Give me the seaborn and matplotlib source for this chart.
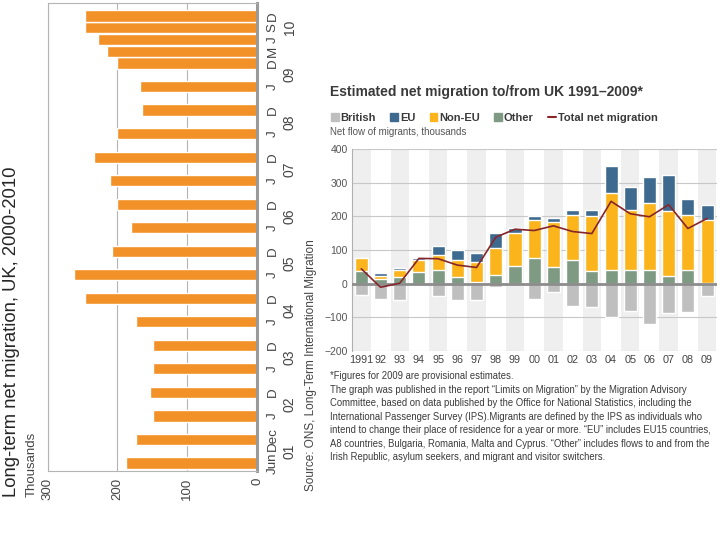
import numpy as np
import pandas as pd
import seaborn as sns
import matplotlib
matplotlib.use("Agg")
import matplotlib.pyplot as plt
import matplotlib.transforms as mtransforms
from matplotlib.patches import Patch
from matplotlib.lines import Line2D

# left panel: long-term net migration, UK (thousands)
periods = ["2001-06", "2001-12", "2002-06", "2002-12", "2003-06", "2003-12",
           "2004-06", "2004-12", "2005-06", "2005-12", "2006-06", "2006-12",
           "2007-06", "2007-12", "2008-06", "2008-12", "2009-06", "2009-12",
           "2010-03", "2010-06", "2010-09", "2010-12"]
period_labels = ["Jun", "Dec", "J", "D", "J", "D", "J", "D", "J", "D", "J", "D",
                 "J", "D", "J", "D", "J", "D", "M", "J", "S", "D"]
net_migration = [188, 173, 149, 154, 149, 149, 174, 247, 263, 208, 181, 201,
                 211, 234, 201, 165, 168, 201, 215, 228, 246, 246]
years = list(range(2001, 2011))

# right panel: estimated net migration to/from UK 1991-2009 (thousands)
year_labels = ["1991", "92", "93", "94", "95", "96", "97", "98", "99", "00",
               "01", "02", "03", "04", "05", "06", "07", "08", "09"]
british = [-33, -45, -48, 0, -38, -48, -48, -11, 0, -45,
           -26, -67, -70, -99, -83, -121, -88, -85, -38]
eu = [0, 8, 6, 8, 27, 32, 29, 46, 16, 14, 14, 15, 20, 78, 70, 79, 107, 47, 47]
non_eu = [37, 8, 19, 36, 47, 50, 57, 78, 97, 111,
          132, 134, 164, 232, 179, 200, 191, 166, 186]
other = [38, 14, 21, 33, 39, 19, 6, 27, 53, 77, 50, 71, 36, 39, 39, 39, 24, 39, 2]
total = [44, -11, 1, 75, 74, 55, 48, 138, 162, 158,
         172, 155, 149, 245, 208, 199, 235, 164, 194]

footnote = ("*Figures for 2009 are provisional estimates.\n"
            "The graph was published in the report \u201cLimits on Migration\u201d by the Migration Advisory\n"
            "Committee, based on data published by the Office for National Statistics, including the\n"
            "International Passenger Survey (IPS).Migrants are defined by the IPS as individuals who\n"
            "intend to change their place of residence for a year or more. \u201cEU\u201d includes EU15 countries,\n"
            "A8 countries, Bulgaria, Romania, Malta and Cyprus. \u201cOther\u201d includes flows to and from the\n"
            "Irish Republic, asylum seekers, and migrant and visitor switchers.")

orange = "#f39129"
c_british = "#bfbfbf"
c_eu = "#3f6a8f"
c_non_eu = "#fbb41c"
c_other = "#7e9a83"
c_total = "#86262a"

sns.set_theme(style="white")
plt.rcParams['font.family'] = ['Liberation Sans', 'DejaVu Sans']

fig = plt.figure(figsize=(7.2, 5.4), dpi=100)

# ---- left chart (drawn rotated) ----
ax1 = fig.add_axes([47.7 / 720, 1 - 471 / 540, 209.3 / 720, 468 / 540])
dates = pd.to_datetime(periods, format="%Y-%m")
months = (dates.year - 2001) * 12 + dates.month - 6
df1 = pd.DataFrame({"month": months, "value": net_migration})
sns.barplot(data=df1, x="value", y="month", orient="h", native_scale=True,
            width=0.95, color=orange, saturation=1, errorbar=None, ax=ax1)
ax1.set_xlim(300, 0)
ax1.set_ylim(-2.04, 117.3)
ax1.set_xlabel("")
ax1.set_ylabel("")
ax1.set_xticks([300, 200, 100, 0])
ax1.grid(axis="x", color="#b4b4b4", lw=0.8)
ax1.grid(axis="y", visible=False)
ax1.set_axisbelow(True)
for s in ["left", "top", "bottom"]:
    ax1.spines[s].set_color("#b4b4b4")
    ax1.spines[s].set_linewidth(0.8)
ax1.spines["right"].set_color("#9a9a9a")
ax1.spines["right"].set_linewidth(2.2)
ax1.set_yticks(months, labels=period_labels)
ax1.yaxis.tick_right()
ax1.tick_params(axis="y", length=0, pad=7, labelsize=9.6, labelcolor="#444444")
ax1.tick_params(axis="x", length=0, pad=5, labelsize=9.5, labelcolor="#444444")
for lab in ax1.get_yticklabels():
    lab.set_rotation(90)
    lab.set_va("center")
    lab.set_ha("left")
for lab in ax1.get_xticklabels():
    lab.set_rotation(90)
    lab.set_va("top")
    lab.set_ha("center")
trans = mtransforms.blended_transform_factory(ax1.transAxes, ax1.transData)
for y in years:
    ax1.text(1.124, (y - 2001) * 12 + 3, f"{y % 100:02d}", transform=trans,
             rotation=90, ha="left", va="center", fontsize=10, color="#444444")

fig.text(11.5 / 720, 1 - 497 / 540, "Long-term net migration, UK, 2000-2010",
         rotation=90, ha="center", va="bottom", fontsize=13.3, color="#262626")
fig.text(32 / 720, 1 - 497 / 540, "Thousands", rotation=90, ha="center",
         va="bottom", fontsize=9.5, color="#444444")
fig.text(311 / 720, 1 - 365 / 540, "Source: ONS, Long-Term International Migration",
         rotation=90, ha="center", va="center", fontsize=8.5, color="#444444")

# ---- right chart (stacked bars) ----
ax2 = fig.add_axes([351.7 / 720, 1 - 350.7 / 540, 365 / 720, 201.4 / 540])
x = np.arange(len(year_labels))
for i in range(0, len(year_labels), 2):
    ax2.axvspan(i - 0.48, i + 0.48, color="#efefef", lw=0, zorder=0.1)
top3 = np.array(other) + np.array(non_eu) + np.array(eu)
top2 = np.array(other) + np.array(non_eu)
sns.barplot(x=year_labels, y=top3, color=c_eu, saturation=1, width=0.68,
            errorbar=None, ax=ax2)
sns.barplot(x=year_labels, y=top2, color=c_non_eu, saturation=1, width=0.68,
            errorbar=None, ax=ax2)
sns.barplot(x=year_labels, y=other, color=c_other, saturation=1, width=0.68,
            errorbar=None, ax=ax2)
sns.barplot(x=year_labels, y=british, color=c_british, saturation=1, width=0.68,
            errorbar=None, ax=ax2)
sns.lineplot(x=x, y=total, color=c_total, lw=1.2, ax=ax2, zorder=4)
ax2.axhline(0, color="#8c8c8c", lw=2, zorder=3)
ax2.set_xlim(-0.5, len(year_labels) - 0.5)
ax2.set_ylim(-200, 400)
ax2.set_yticks(range(-200, 401, 100))
ax2.set_xticks(x, labels=year_labels)
ax2.set_xlabel("")
ax2.set_ylabel("")
ax2.grid(axis="y", color="#c8c8c8", lw=0.8)
ax2.grid(axis="x", visible=False)
ax2.set_axisbelow(True)
for s in ["top", "right", "bottom"]:
    ax2.spines[s].set_visible(False)
ax2.spines["left"].set_color("#b0b0b0")
ax2.spines["left"].set_linewidth(0.8)
ax2.tick_params(axis="y", length=2, color="#b0b0b0", pad=1, labelsize=7.5,
                labelcolor="#555555")
ax2.tick_params(axis="x", length=0, pad=3, labelsize=7.8, labelcolor="#444444")

fig.text(330 / 720, 1 - 92 / 540, "Estimated net migration to/from UK 1991\u20132009*",
         ha="left", va="center", fontsize=10, fontweight="bold", color="#3a3a3a")
handles = [Patch(color=c_british, label="British"), Patch(color=c_eu, label="EU"),
           Patch(color=c_non_eu, label="Non-EU"), Patch(color=c_other, label="Other"),
           Line2D([0], [0], color=c_total, lw=1.5, label="Total net migration")]
leg = fig.legend(handles=handles, loc="center left", bbox_to_anchor=(331 / 720, 1 - 118 / 540),
                 ncol=5, frameon=False, handlelength=0.7, handleheight=0.7,
                 handletextpad=0.15, columnspacing=1.3, borderpad=0, borderaxespad=0,
                 prop={"weight": "bold", "size": 8})
for t in leg.get_texts():
    t.set_color("#3a3a3a")
fig.text(330 / 720, 1 - 132 / 540, "Net flow of migrants, thousands", ha="left",
         va="center", fontsize=7, color="#555555")
fig.text(330 / 720, 1 - 371 / 540, footnote, ha="left", va="top", fontsize=6.85,
         color="#3a3a3a", linespacing=1.44)

fig.savefig("out.png", dpi=100)
